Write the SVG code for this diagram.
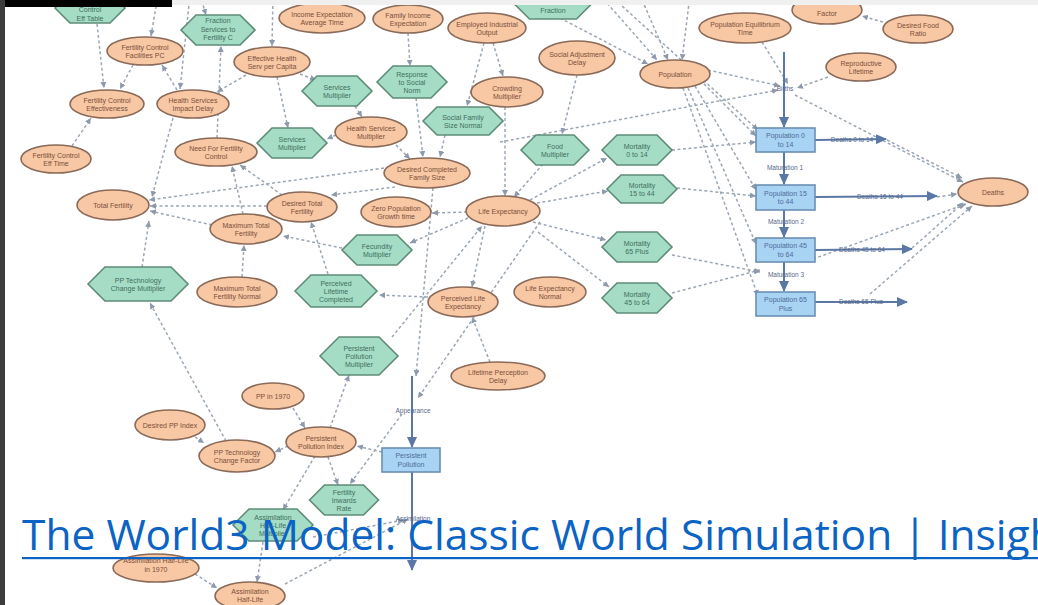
<svg xmlns="http://www.w3.org/2000/svg" width="1038" height="605" viewBox="0 0 1038 605">
<defs>
<marker id="a" markerUnits="userSpaceOnUse" markerWidth="6" markerHeight="6" refX="6" refY="3" orient="auto"><path d="M0,0 L6,3 L0,6 z" fill="#8d9aab"/></marker>
<marker id="fa" markerUnits="userSpaceOnUse" markerWidth="11" markerHeight="10" refX="10" refY="5" orient="auto"><path d="M0,0 L11,5 L0,10 z" fill="#5b77a6"/></marker>
<style>
.e{fill:#f8c7a3;stroke:#8a6a58;stroke-width:1.6}
.h{fill:#a5dcc5;stroke:#5e8c78;stroke-width:1.6}
.r{fill:#a9d3f3;stroke:#6b8fb4;stroke-width:1.6}
.t{font-family:"Liberation Sans",Arial,sans-serif;font-size:7px;text-anchor:middle}
.to{fill:#7a4f3c}
.tg{fill:#3f6f60}
.tb{fill:#4d6c99}
.fl{font-family:"Liberation Sans",Arial,sans-serif;font-size:6.5px;fill:#55698c;text-anchor:middle}
.c{stroke:#9ba7b5;stroke-width:1.5;stroke-dasharray:3 2.5;fill:none;marker-end:url(#a)}
.f{stroke:#5b77a6;stroke-width:2;fill:none;marker-end:url(#fa)}
.link{font-family:"Open Sans","Noto Sans",sans-serif;font-size:42.5px;fill:#0b63c3}
</style>
</defs>
<rect x="0" y="0" width="1038" height="605" fill="#ffffff"/>

<g id="connectors">
<path class="c" d="M97,24 L104,88"/>
<path class="c" d="M133,65 L120,89"/>
<path class="c" d="M158,-5 L151,36"/>
<path class="c" d="M190,-5 L180,89"/>
<path class="c" d="M177,90 L162,65"/>
<path class="c" d="M200,-5 L206,15"/>
<path class="c" d="M246,75 L217,92"/>
<path class="c" d="M217,138 L221,46"/>
<path class="c" d="M273,-5 L272,46"/>
<path class="c" d="M408,33 L410,66"/>
<path class="c" d="M395,-5 L396,5"/>
<path class="c" d="M422,-5 L421,5"/>
<path class="c" d="M484,43 L467,106"/>
<path class="c" d="M493,43 L503,76"/>
<path class="c" d="M416,98 L423,157"/>
<path class="c" d="M445,135 L440,157"/>
<path class="c" d="M300,74 L316,80"/>
<path class="c" d="M355,106 L362,117"/>
<path class="c" d="M277,77 L288,128"/>
<path class="c" d="M336,135 L327,139"/>
<path class="c" d="M396,145 L410,159"/>
<path class="c" d="M384,168 L149,200"/>
<path class="c" d="M267,206 L150,206"/>
<path class="c" d="M212,225 L150,211"/>
<path class="c" d="M142,267 L149,221"/>
<path class="c" d="M173,118 L152,197"/>
<path class="c" d="M72,146 L91,118"/>
<path class="c" d="M226,441 L150,303"/>
<path class="c" d="M195,437 L204,443"/>
<path class="c" d="M242,277 L244,245"/>
<path class="c" d="M328,274 L311,222"/>
<path class="c" d="M342,248 L283,236"/>
<path class="c" d="M468,218 L410,243"/>
<path class="c" d="M395,187 L331,195"/>
<path class="c" d="M433,188 L416,376"/>
<path class="c" d="M485,226 L472,287"/>
<path class="c" d="M428,297 L379,295"/>
<path class="c" d="M490,362 L472,317"/>
<path class="c" d="M392,337 L482,226"/>
<path class="c" d="M540,222 L418,398"/>
<path class="c" d="M293,408 L305,428"/>
<path class="c" d="M330,428 L349,375"/>
<path class="c" d="M288,446 L275,452"/>
<path class="c" d="M382,452 L357,446"/>
<path class="c" d="M328,457 L338,485"/>
<path class="c" d="M315,456 L283,510"/>
<path class="c" d="M402,414 L350,484"/>
<path class="c" d="M285,584 L408,519"/>
<path class="c" d="M313,537 L404,520"/>
<path class="c" d="M263,542 L257,582"/>
<path class="c" d="M195,574 L217,588"/>
<path class="c" d="M467,212 L432,213"/>
<path class="c" d="M243,214 L232,166"/>
<path class="c" d="M282,195 L240,165"/>
<path class="c" d="M543,164 L514,197"/>
<path class="c" d="M577,75 L562,134"/>
<path class="c" d="M505,107 L505,196"/>
<path class="c" d="M537,203 L608,191"/>
<path class="c" d="M533,222 L606,240"/>
<path class="c" d="M538,232 L609,287"/>
<path class="c" d="M530,200 L607,158"/>
<path class="c" d="M672,150 L756,142"/>
<path class="c" d="M677,188 L756,196"/>
<path class="c" d="M672,255 L760,272"/>
<path class="c" d="M672,293 L760,270"/>
<path class="c" d="M500,142 L778,90"/>
<path class="c" d="M560,18 L648,64"/>
<path class="c" d="M600,-5 L657,60"/>
<path class="c" d="M640,-5 L668,60"/>
<path class="c" d="M690,-5 L682,60"/>
<path class="c" d="M610,-5 L758,130"/>
<path class="c" d="M700,80 L756,136"/>
<path class="c" d="M695,86 L756,190"/>
<path class="c" d="M688,88 L756,244"/>
<path class="c" d="M683,88 L758,296"/>
<path class="c" d="M708,70 L780,86"/>
<path class="c" d="M762,42 L788,84"/>
<path class="c" d="M828,77 L797,88"/>
<path class="c" d="M795,95 L963,182"/>
<path class="c" d="M887,140 L962,178"/>
<path class="c" d="M937,197 L957,194"/>
<path class="c" d="M912,248 L963,203"/>
<path class="c" d="M870,294 L972,206"/>
<path class="c" d="M813,259 L966,204"/>
<path class="c" d="M883,22 L862,16"/>
<path class="f" d="M784,52 L784,127"/>
<path class="f" d="M784,152 L784,184"/>
<path class="f" d="M784,210 L784,237"/>
<path class="f" d="M784,262 L784,291"/>
<path class="f" d="M815,140 L886,139"/>
<path class="f" d="M815,197 L937,196"/>
<path class="f" d="M815,250 L912,249"/>
<path class="f" d="M815,302 L907,302"/>
<path class="f" d="M412,376 L412,447"/>
<path class="f" d="M412,472 L412,570"/>
<text class="fl" x="785" y="91">Births</text>
<text class="fl" x="852" y="142">Deaths 0 to 14</text>
<text class="fl" x="785" y="170">Maturation 1</text>
<text class="fl" x="880" y="199">Deaths 15 to 44</text>
<text class="fl" x="786" y="224">Maturation 2</text>
<text class="fl" x="862" y="252">Deaths 45 to 64</text>
<text class="fl" x="786" y="277">Maturation 3</text>
<text class="fl" x="861" y="304">Deaths 65 Plus</text>
<text class="fl" x="413" y="413">Appearance</text>
<text class="fl" x="413" y="521">Assimilation</text>
</g>

<g id="n-control-eff-table"><polygon class="h" points="55,8 70,-7 110,-7 125,8 110,23 70,23"/><text class="t tg" x="90" y="12">Control</text><text class="t tg" x="90" y="21">Eff Table</text></g>
<g id="n-fraction-services"><polygon class="h" points="181,30 196,15 240,15 255,30 240,45 196,45"/><text class="t tg" x="218" y="23">Fraction</text><text class="t tg" x="218" y="31.5">Services to</text><text class="t tg" x="218" y="40">Fertility C</text></g>
<g id="n-top-hex-a"><polygon class="h" points="433,-12 448,-27 470,-27 485,-12 470,3 448,3"/></g>
<g id="n-top-hex-b"><polygon class="h" points="514.5,4 529.5,-11 576.5,-11 591.5,4 576.5,19 529.5,19"/><text class="t tg" x="553" y="13">Fraction</text></g>
<g id="n-services-mult-1"><polygon class="h" points="302,91 317,76 357,76 372,91 357,106 317,106"/><text class="t tg" x="337" y="89.5">Services</text><text class="t tg" x="337" y="98">Multiplier</text></g>
<g id="n-response-social-norm"><polygon class="h" points="377,82 393,66 431,66 447,82 431,98 393,98"/><text class="t tg" x="412" y="76.5">Response</text><text class="t tg" x="412" y="84.5">to Social</text><text class="t tg" x="412" y="92.5">Norm</text></g>
<g id="n-social-family-size"><polygon class="h" points="423,121 437,107 489,107 503,121 489,135 437,135"/><text class="t tg" x="463" y="119.5">Social Family</text><text class="t tg" x="463" y="128">Size Normal</text></g>
<g id="n-services-mult-2"><polygon class="h" points="257,143 272,128 312,128 327,143 312,158 272,158"/><text class="t tg" x="292" y="141.5">Services</text><text class="t tg" x="292" y="150">Multiplier</text></g>
<g id="n-food-mult"><polygon class="h" points="521,150 536,135 574,135 589,150 574,165 536,165"/><text class="t tg" x="555" y="148.5">Food</text><text class="t tg" x="555" y="157">Multiplier</text></g>
<g id="n-mort-0-14"><polygon class="h" points="602,150 617,135 657,135 672,150 657,165 617,165"/><text class="t tg" x="637" y="148.5">Mortality</text><text class="t tg" x="637" y="157">0 to 14</text></g>
<g id="n-mort-15-44"><polygon class="h" points="607,189 621,175 663,175 677,189 663,203 621,203"/><text class="t tg" x="642" y="187.5">Mortality</text><text class="t tg" x="642" y="196">15 to 44</text></g>
<g id="n-fecundity"><polygon class="h" points="342,250 357,235 397,235 412,250 397,265 357,265"/><text class="t tg" x="377" y="248.5">Fecundity</text><text class="t tg" x="377" y="257">Multiplier</text></g>
<g id="n-mort-65"><polygon class="h" points="602,247 617,232 657,232 672,247 657,262 617,262"/><text class="t tg" x="637" y="245.5">Mortality</text><text class="t tg" x="637" y="254">65 Plus</text></g>
<g id="n-pp-tech-mult"><polygon class="h" points="88,284 105,267 171,267 188,284 171,301 105,301"/><text class="t tg" x="138" y="282.5">PP Technology</text><text class="t tg" x="138" y="291">Change Multiplier</text></g>
<g id="n-perceived-lifetime"><polygon class="h" points="295,291 311,275 361,275 377,291 361,307 311,307"/><text class="t tg" x="336" y="285.5">Perceived</text><text class="t tg" x="336" y="293.5">Lifetime</text><text class="t tg" x="336" y="301.5">Completed</text></g>
<g id="n-mort-45-64"><polygon class="h" points="602,298 617,283 657,283 672,298 657,313 617,313"/><text class="t tg" x="637" y="296.5">Mortality</text><text class="t tg" x="637" y="305">45 to 64</text></g>
<g id="n-pp-mult"><polygon class="h" points="320,356 339,337 379,337 398,356 379,375 339,375"/><text class="t tg" x="359" y="350.5">Persistent</text><text class="t tg" x="359" y="358.5">Pollution</text><text class="t tg" x="359" y="366.5">Multiplier</text></g>
<g id="n-fertility-rate"><polygon class="h" points="309.5,500 324.5,485 363.5,485 378.5,500 363.5,515 324.5,515"/><text class="t tg" x="344" y="494.5">Fertility</text><text class="t tg" x="344" y="502.5">Inwards</text><text class="t tg" x="344" y="510.5">Rate</text></g>
<g id="n-assim-hl-mult"><polygon class="h" points="233,525 249,509 297,509 313,525 297,541 249,541"/><text class="t tg" x="273" y="519.5">Assimilation</text><text class="t tg" x="273" y="527.5">Half-Life</text><text class="t tg" x="273" y="535.5">Multiplier</text></g>

<g id="n-fc-facilities"><ellipse class="e" cx="145" cy="51" rx="38" ry="14"/><text class="t to" x="145" y="49.5">Fertility Control</text><text class="t to" x="145" y="58">Facilities PC</text></g>
<g id="n-income-exp-time"><ellipse class="e" cx="322" cy="18" rx="43" ry="15"/><text class="t to" x="322" y="16.5">Income Expectation</text><text class="t to" x="322" y="25">Average Time</text></g>
<g id="n-family-income"><ellipse class="e" cx="408" cy="19" rx="35" ry="14"/><text class="t to" x="408" y="17.5">Family Income</text><text class="t to" x="408" y="26">Expectation</text></g>
<g id="n-eio"><ellipse class="e" cx="487" cy="28" rx="39" ry="15"/><text class="t to" x="487" y="26.5">Employed Industrial</text><text class="t to" x="487" y="35">Output</text></g>
<g id="n-social-adj"><ellipse class="e" cx="577" cy="58" rx="38" ry="17"/><text class="t to" x="577" y="56.5">Social Adjustment</text><text class="t to" x="577" y="65">Delay</text></g>
<g id="n-crowding"><ellipse class="e" cx="507" cy="92" rx="36" ry="15"/><text class="t to" x="507" y="90.5">Crowding</text><text class="t to" x="507" y="99">Multiplier</text></g>
<g id="n-population"><ellipse class="e" cx="675" cy="74" rx="35" ry="14"/><text class="t to" x="675" y="76.5">Population</text></g>
<g id="n-pop-eq-time"><ellipse class="e" cx="745" cy="28" rx="46" ry="15"/><text class="t to" x="745" y="26.5">Population Equilibrium</text><text class="t to" x="745" y="35">Time</text></g>
<g id="n-factor"><ellipse class="e" cx="827" cy="10" rx="35" ry="14"/><text class="t to" x="827" y="16">Factor</text></g>
<g id="n-desired-food"><ellipse class="e" cx="918" cy="29" rx="35" ry="14"/><text class="t to" x="918" y="27.5">Desired Food</text><text class="t to" x="918" y="36">Ratio</text></g>
<g id="n-repro-life"><ellipse class="e" cx="861" cy="67" rx="35" ry="14"/><text class="t to" x="861" y="65.5">Reproductive</text><text class="t to" x="861" y="74">Lifetime</text></g>
<g id="n-ehspc"><ellipse class="e" cx="272" cy="62" rx="38" ry="15"/><text class="t to" x="272" y="60.5">Effective Health</text><text class="t to" x="272" y="69">Serv per Capita</text></g>
<g id="n-hs-mult"><ellipse class="e" cx="371" cy="132" rx="36" ry="15"/><text class="t to" x="371" y="130.5">Health Services</text><text class="t to" x="371" y="139">Multiplier</text></g>
<g id="n-dcfs"><ellipse class="e" cx="427" cy="173" rx="43" ry="15"/><text class="t to" x="427" y="171.5">Desired Completed</text><text class="t to" x="427" y="180">Family Size</text></g>
<g id="n-fce"><ellipse class="e" cx="107" cy="104" rx="37" ry="14"/><text class="t to" x="107" y="102.5">Fertility Control</text><text class="t to" x="107" y="111">Effectiveness</text></g>
<g id="n-hsid"><ellipse class="e" cx="193" cy="104" rx="36" ry="14"/><text class="t to" x="193" y="102.5">Health Services</text><text class="t to" x="193" y="111">Impact Delay</text></g>
<g id="n-fcet"><ellipse class="e" cx="56" cy="159" rx="35" ry="14"/><text class="t to" x="56" y="157.5">Fertility Control</text><text class="t to" x="56" y="166">Eff Time</text></g>
<g id="n-nffc"><ellipse class="e" cx="216" cy="152" rx="41" ry="14"/><text class="t to" x="216" y="150.5">Need For Fertility</text><text class="t to" x="216" y="159">Control</text></g>
<g id="n-deaths"><ellipse class="e" cx="993" cy="192" rx="35" ry="14"/><text class="t to" x="993" y="194.5">Deaths</text></g>
<g id="n-total-fertility"><ellipse class="e" cx="113" cy="205" rx="36" ry="15"/><text class="t to" x="113" y="207.5">Total Fertility</text></g>
<g id="n-dtf"><ellipse class="e" cx="302" cy="207" rx="35" ry="15"/><text class="t to" x="302" y="205.5">Desired Total</text><text class="t to" x="302" y="214">Fertility</text></g>
<g id="n-zpgt"><ellipse class="e" cx="396" cy="212" rx="35" ry="15"/><text class="t to" x="396" y="210.5">Zero Population</text><text class="t to" x="396" y="219">Growth time</text></g>
<g id="n-life-exp"><ellipse class="e" cx="503" cy="211" rx="37" ry="15"/><text class="t to" x="503" y="213.5">Life Expectancy</text></g>
<g id="n-mtf"><ellipse class="e" cx="246" cy="229" rx="36" ry="15"/><text class="t to" x="246" y="227.5">Maximum Total</text><text class="t to" x="246" y="236">Fertility</text></g>
<g id="n-mtfn"><ellipse class="e" cx="237" cy="292" rx="40" ry="15"/><text class="t to" x="237" y="290.5">Maximum Total</text><text class="t to" x="237" y="299">Fertility Normal</text></g>
<g id="n-ple"><ellipse class="e" cx="463" cy="302" rx="35" ry="15"/><text class="t to" x="463" y="300.5">Perceived Life</text><text class="t to" x="463" y="309">Expectancy</text></g>
<g id="n-len"><ellipse class="e" cx="550" cy="292" rx="36" ry="15"/><text class="t to" x="550" y="290.5">Life Expectancy</text><text class="t to" x="550" y="299">Normal</text></g>
<g id="n-lpd"><ellipse class="e" cx="498" cy="376" rx="47" ry="14"/><text class="t to" x="498" y="374.5">Lifetime Perception</text><text class="t to" x="498" y="383">Delay</text></g>
<g id="n-pp1970"><ellipse class="e" cx="273" cy="396" rx="31" ry="13"/><text class="t to" x="273" y="398.5">PP in 1970</text></g>
<g id="n-dppi"><ellipse class="e" cx="170" cy="425" rx="35" ry="15"/><text class="t to" x="170" y="427.5">Desired PP Index</text></g>
<g id="n-pptcf"><ellipse class="e" cx="237" cy="456" rx="38" ry="16"/><text class="t to" x="237" y="454.5">PP Technology</text><text class="t to" x="237" y="463">Change Factor</text></g>
<g id="n-ppi"><ellipse class="e" cx="321" cy="442" rx="35" ry="15"/><text class="t to" x="321" y="440.5">Persistent</text><text class="t to" x="321" y="449">Pollution Index</text></g>
<g id="n-ahl1970"><ellipse class="e" cx="156" cy="568" rx="43" ry="14"/><text class="t to" x="156" y="563">Assimilation Half-Life</text><text class="t to" x="156" y="572">in 1970</text></g>
<g id="n-ahl"><ellipse class="e" cx="250" cy="596" rx="35" ry="14"/><text class="t to" x="250" y="593.5">Assimilation</text><text class="t to" x="250" y="602">Half-Life</text></g>

<g id="n-pop-0-14"><rect class="r" x="756" y="128" width="59" height="24"/><text class="t tb" x="785.5" y="138">Population 0</text><text class="t tb" x="785.5" y="146.5">to 14</text></g>
<g id="n-pop-15-44"><rect class="r" x="756" y="185" width="59" height="25"/><text class="t tb" x="785.5" y="195.5">Population 15</text><text class="t tb" x="785.5" y="204">to 44</text></g>
<g id="n-pop-45-64"><rect class="r" x="756" y="238" width="59" height="24"/><text class="t tb" x="785.5" y="248">Population 45</text><text class="t tb" x="785.5" y="256.5">to 64</text></g>
<g id="n-pop-65"><rect class="r" x="756" y="292" width="59" height="24"/><text class="t tb" x="785.5" y="302">Population 65</text><text class="t tb" x="785.5" y="310.5">Plus</text></g>
<g id="n-persistent-pollution"><rect class="r" x="382" y="448" width="58" height="24"/><text class="t tb" x="411" y="458">Persistent</text><text class="t tb" x="411" y="466.5">Pollution</text></g>

<g id="frame">
<rect x="172" y="0" width="866" height="5" fill="#f0f0f0"/>
<rect x="0" y="0" width="172" height="7" fill="#000000"/>
<rect x="0" y="0" width="5" height="605" fill="#3c3c3c"/>
</g>
<g id="link">
<text class="link" x="22" y="550">The World3 Model: Classic World Simulation | Insigh</text>
<rect x="22" y="557" width="1016" height="2.2" fill="#0b63c3"/>
</g>
</svg>
